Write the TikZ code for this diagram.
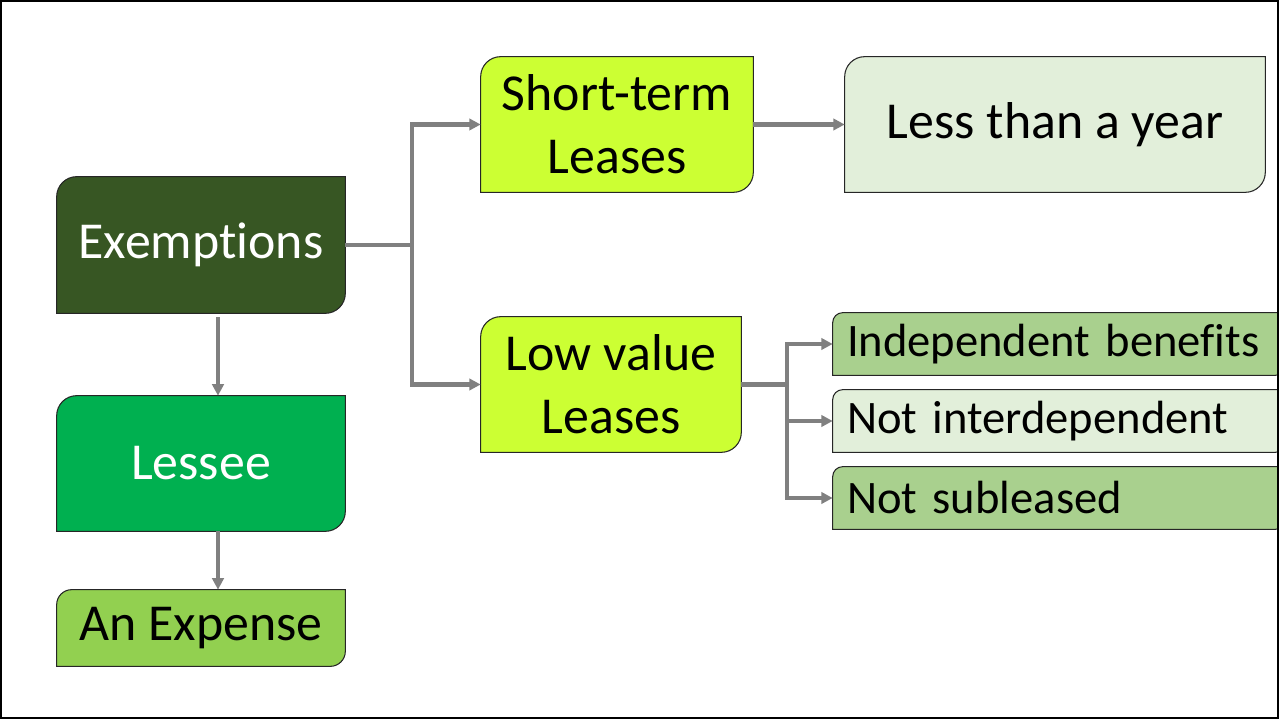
\documentclass[tikz,border=0pt]{standalone}
\usepackage{fontspec}
\setmainfont{Carlito}[Ligatures=NoCommon]
\usetikzlibrary{positioning}
\usetikzlibrary{arrows.meta,backgrounds}
\definecolor{exemptgreen}{HTML}{375623}
\definecolor{lesseegreen}{HTML}{00B050}
\definecolor{expensegreen}{HTML}{92D050}
\definecolor{leaselime}{HTML}{CCFF33}
\definecolor{palegreen}{HTML}{E2EFDA}
\definecolor{midgreen}{HTML}{A9D08E}
\definecolor{linkgray}{HTML}{808080}
% box with rounded top left and bottom right corners
\newcommand\leasebox[3]{%
\begin{scope}[on background layer]
\filldraw[fill=#2, draw=black!85, line width=0.6pt] (#1.south west) -- ([yshift=-#3]#1.north west) arc[start angle=180,end angle=90,radius=#3] -- (#1.north east) -- ([yshift=#3]#1.south east) arc[start angle=0,end angle=-90,radius=#3] -- cycle;
\end{scope}
}

\begin{document}
\begin{tikzpicture}[x=0.02cm,y=-0.02cm,
	bigbox/.style={inner sep=0pt, align=center, font=\fontsize{29.5}{35.7}\selectfont},
	smallbox/.style={inner xsep=0.28cm, inner ysep=0pt, minimum height=1.24cm, text width=8.48cm, align=left, font=\fontsize{26.5}{30}\selectfont},
	link/.style={draw=linkgray, line width=2.3pt, -{Triangle[length=6.5pt,width=6.5pt]}}]
	\useasboundingbox (0,0) rectangle (1279,719);
	\clip (0,0) rectangle (1279,719);

	%% left column
	\node[bigbox, minimum width=5.76cm, minimum height=2.72cm, text=white] (exempt) at (201,245) {Exemptions};
	\node[bigbox, minimum width=5.76cm, minimum height=2.7cm, text=white] (lessee) at (201,463.5) {Lessee};
	\node[bigbox, minimum width=5.76cm, minimum height=1.52cm] (expense) at (201,628) {An Expense};

	%% the two exemptions
	\node[bigbox, minimum width=5.44cm, minimum height=2.7cm] (short) at (617,124.5) {Short-term\\Leases};
	\node[bigbox, minimum width=8.4cm, minimum height=2.7cm] (year) at (1055,124.5) {Less than a year};
	\node[bigbox, minimum width=5.2cm, minimum height=2.7cm] (lowval) at (611,384.5) {Low value\\Leases};

	%% conditions for low value
	\node[smallbox] (indep) at (1059,344) {Independent benefits};
	\node[smallbox] (interdep) at (1059,421) {Not interdependent};
	\node[smallbox] (sublease) at (1059,498) {Not subleased};

	\leasebox{exempt}{exemptgreen}{0.4cm}
	\leasebox{lessee}{lesseegreen}{0.4cm}
	\leasebox{expense}{expensegreen}{0.3cm}
	\leasebox{short}{leaselime}{0.4cm}
	\leasebox{year}{palegreen}{0.4cm}
	\leasebox{lowval}{leaselime}{0.4cm}
	\leasebox{indep}{midgreen}{0.2cm}
	\leasebox{interdep}{palegreen}{0.2cm}
	\leasebox{sublease}{midgreen}{0.2cm}

	% connectors
	\draw[link] (exempt.east) -- ++(67,0) |- (short.west);
	\draw[link] (exempt.east) -- ++(67,0) |- (lowval.west);
	\draw[link] (short.east) -- (year.west);
	\draw[link, shorten <=0.08cm] ([xshift=0.34cm]exempt.south) -- ([xshift=0.34cm]lessee.north);
	\draw[link] ([xshift=0.34cm]lessee.south) -- ([xshift=0.34cm]expense.north);
	\draw[link] (lowval.east) -- ++(46,0) |- (indep.west);
	\draw[link] (lowval.east) -- ++(46,0) |- (interdep.west);
	\draw[link] (lowval.east) -- ++(46,0) |- (sublease.west);

	% frame
	\draw[line width=1.2pt] (1,1) rectangle (1278,718);
\end{tikzpicture}
\end{document}
